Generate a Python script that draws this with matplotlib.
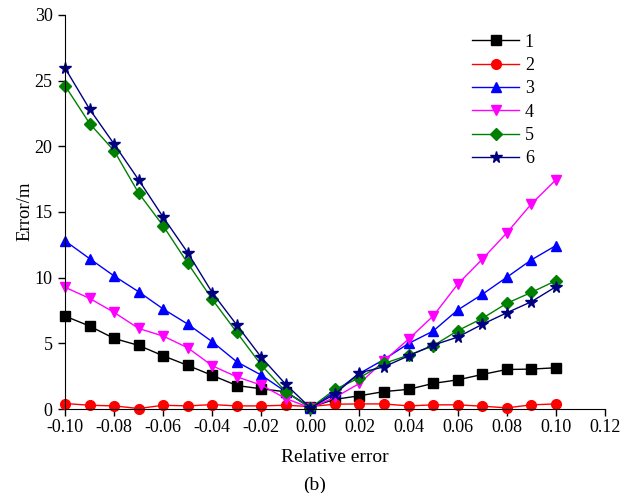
import numpy as np
import matplotlib.pyplot as plt

plt.rcParams['font.family'] = ['Liberation Serif', 'DejaVu Serif']

# Relative error values
x = [-0.10, -0.09, -0.08, -0.07, -0.06, -0.05, -0.04, -0.03, -0.02, -0.01, 0.00,
     0.01, 0.02, 0.03, 0.04, 0.05, 0.06, 0.07, 0.08, 0.09, 0.10]

# Error/m for each case
s1 = [7.08, 6.32, 5.38, 4.85, 4.06, 3.33, 2.57, 1.80, 1.55, 1.32, 0.15,
      0.75, 1.02, 1.34, 1.51, 1.96, 2.23, 2.64, 3.02, 3.05, 3.15]
s2 = [0.43, 0.30, 0.25, 0.05, 0.30, 0.25, 0.35, 0.25, 0.25, 0.30, 0.20,
      0.38, 0.40, 0.40, 0.25, 0.33, 0.33, 0.23, 0.10, 0.33, 0.40]
s3 = [12.80, 11.45, 10.13, 8.93, 7.62, 6.47, 5.13, 3.60, 2.59, 1.32, 0.10,
      1.32, 2.72, 3.78, 5.00, 5.94, 7.54, 8.73, 10.03, 11.35, 12.44]
s4 = [9.27, 8.43, 7.36, 6.14, 5.56, 4.67, 3.30, 2.46, 1.83, 0.81, 0.10,
      0.90, 1.96, 3.68, 5.33, 7.08, 9.50, 11.40, 13.40, 15.60, 17.44]
s5 = [24.60, 21.73, 19.65, 16.43, 13.94, 11.10, 8.35, 5.84, 3.35, 1.32, 0.10,
      1.50, 2.39, 3.48, 4.11, 4.82, 5.97, 6.90, 8.05, 8.88, 9.77]
s6 = [25.94, 22.82, 20.16, 17.44, 14.60, 11.90, 8.86, 6.40, 3.94, 1.88, 0.10,
      1.15, 2.77, 3.22, 4.06, 4.87, 5.48, 6.45, 7.33, 8.17, 9.31]

labels = ['1', '2', '3', '4', '5', '6']
colors = ['black', 'red', 'blue', 'magenta', 'green', 'navy']
markers = ['s', 'o', '^', 'v', 'D', '*']
sizes = [6.5, 7, 7.5, 7.5, 6.5, 8.5]

fig = plt.figure(figsize=(6.32, 4.93), dpi=100)
ax = fig.add_axes([0.103, 0.170, 0.854, 0.800])

for y, lab, c, m, ms in zip([s1, s2, s3, s4, s5, s6], labels, colors, markers, sizes):
    ax.plot(x, y, color=c, marker=m, markersize=ms, linewidth=1.0, label=lab,
            clip_on=False)

ax.set_xlim(-0.10, 0.12)
ax.set_ylim(0, 30)
ax.set_xticks(np.arange(-0.10, 0.121, 0.02))
ax.set_xticklabels(['-0.10', '-0.08', '-0.06', '-0.04', '-0.02', '0.00',
                    '0.02', '0.04', '0.06', '0.08', '0.10', '0.12'])
ax.set_yticks(np.arange(0, 31, 5))

ax.spines['top'].set_visible(False)
ax.spines['right'].set_visible(False)
ax.tick_params(direction='out', length=5, width=1, labelsize=13, colors='black')
ax.tick_params(axis='x', pad=2)
ax.tick_params(axis='y', pad=4)

# axis titles placed as in the original
fig.text(0.529, 0.073, 'Relative error', ha='center', va='center', fontsize=14)
fig.text(0.040, 0.572, 'Error/m', ha='center', va='center', rotation=90, fontsize=13.5)
fig.text(0.498, 0.016, '(b)', ha='center', va='center', fontsize=14)

ax.legend(loc='upper left', bbox_to_anchor=(0.738, 0.975), frameon=False,
          fontsize=13, handlelength=2.6, labelspacing=0.35, borderpad=0,
          handletextpad=0.3)

fig.savefig('out.png', dpi=100)
